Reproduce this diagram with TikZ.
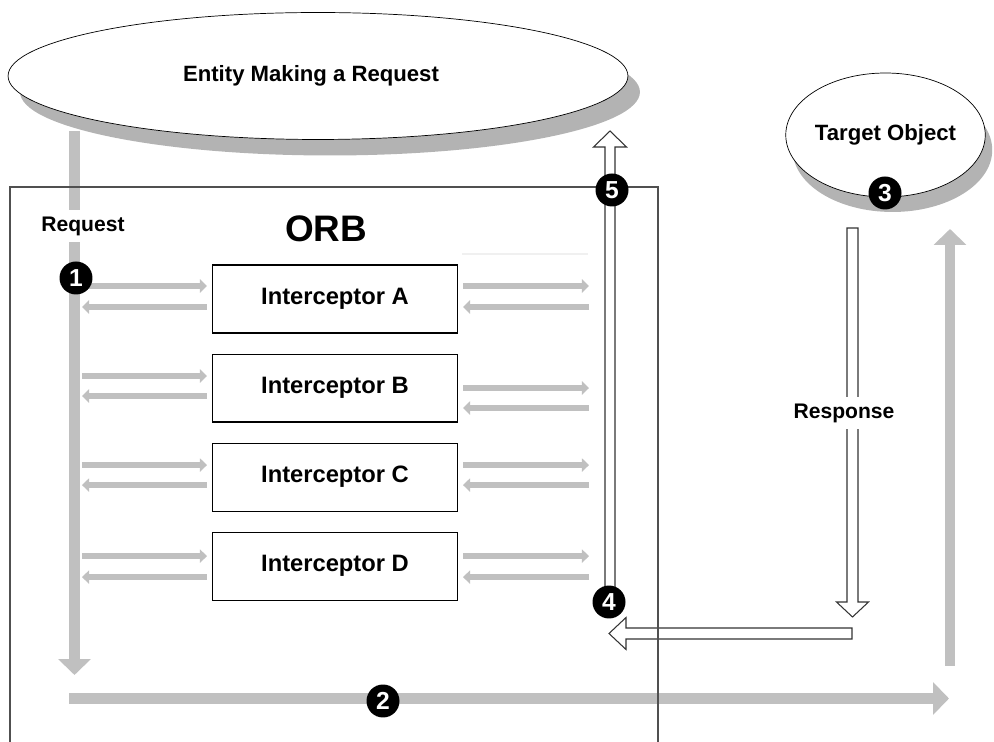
\documentclass[tikz,border=0pt]{standalone}
\usepackage{fontspec}
\setmainfont{Liberation Sans}
\usepackage{tikz}
\usetikzlibrary{positioning,calc,shapes.geometric,shadows,arrows.meta}
\definecolor{bargray}{HTML}{C0C0C0}
\definecolor{shadowgray}{HTML}{B3B3B3}
\definecolor{boxgray}{HTML}{505050}

\begin{document}
\begin{tikzpicture}[x=0.02cm, y=-0.02cm]
        \tikzstyle{entity} = [draw, ellipse, fill=white, inner sep=0pt, font=\bfseries\fontsize{12.6}{15}\selectfont]
        \tikzstyle{icpt} = [draw, rectangle, fill=white, line width=0.6pt, minimum width=4.9cm, minimum height=1.36cm, font=\bfseries\fontsize{13.5}{16}\selectfont]
        \tikzstyle{numdot} = [circle, fill=black, text=white, minimum size=0.66cm, inner sep=0pt, font=\bfseries\fontsize{14}{16}\selectfont]
        \tikzstyle{flowlabel} = [fill=white, inner xsep=2pt, inner ysep=3.5pt, font=\bfseries\fontsize{12}{14}\selectfont]
        \tikzstyle{bigflow} = [draw=bargray, line width=6.2pt, -{Triangle[length=9pt, width=18pt]}]
        \tikzstyle{smallflow} = [draw=bargray, line width=3pt, -{Triangle[length=4pt, width=7.5pt]}]
        \tikzstyle{hollow} = [draw=black!80, fill=white, line width=0.6pt, line join=miter]
        \useasboundingbox (0,0) rectangle (994,742);

        \node (entity) [entity, minimum width=12.4cm, minimum height=2.54cm, drop shadow={shadow xshift=0.24cm, shadow yshift=-0.32cm, fill=shadowgray, opacity=1}] at (318,76) {Entity Making a Request\hspace*{0.28cm}};
        \node (target) [entity, minimum width=3.9cm, minimum height=2.48cm, drop shadow={shadow xshift=0.14cm, shadow yshift=-0.3cm, fill=shadowgray, opacity=1}] at (885.5,135) {Target Object};

        \coordinate (reqtop) at (74.5,131);
        \coordinate (reqend) at (74.5,675);
        \coordinate (h0) at (69,698.5);
        \coordinate (h1) at (949,698.5);
        \coordinate (up0) at (950,666);
        \coordinate (up1) at (950,229);
        \draw[bigflow] (reqtop) -- (reqend);
        \draw[bigflow] (h0) -- (h1);
        \draw[bigflow] (up0) -- (up1);
        \node (req) [flowlabel] at (83,226) {Request};

        \draw[gray!12, line width=0.6pt] (462,254) -- (588,254);
        \node (ia) [icpt] at (335,299) {Interceptor A};
        \node (ib) [icpt, below=0.4cm of ia] {Interceptor B};
        \node (ic) [icpt, below=0.4cm of ib] {Interceptor C};
        \node (id) [icpt, below=0.4cm of ic] {Interceptor D};
        \foreach \n/\a/\b/\c/\d in {ia/-13/8/-13/8, ib/-12/8/0/20, ic/-12/8/-12/8, id/-10/11/-10/11} {
            \draw[smallflow] ($(\n.west)+(-130,\a)$) -- ($(\n.west)+(-5,\a)$);
            \draw[smallflow] ($(\n.west)+(-5,\b)$) -- ($(\n.west)+(-130,\b)$);
            \draw[smallflow] ($(\n.east)+(5,\c)$) -- ($(\n.east)+(131,\c)$);
            \draw[smallflow] ($(\n.east)+(131,\d)$) -- ($(\n.east)+(5,\d)$);
        }

        \coordinate (rettail) at (610,590);
        \coordinate (rettip) at (610,131);
        \draw[hollow] ($(rettail)+(-5,0)$) -- ($(rettip)+(-5,16)$) -- ($(rettip)+(-16.5,16)$) -- (rettip) -- ($(rettip)+(16.5,16)$) -- ($(rettip)+(5,16)$) -- ($(rettail)+(5,0)$);
        \coordinate (resptop) at (852.5,228);
        \coordinate (resptip) at (852.5,617);
        \draw[hollow] ($(resptop)+(-5.5,0)$) -- ($(resptip)+(-5.5,-15)$) -- ($(resptip)+(-16,-15)$) -- (resptip) -- ($(resptip)+(16,-15)$) -- ($(resptip)+(5.5,-15)$) -- ($(resptop)+(5.5,0)$) -- cycle;
        \node (resp) [flowlabel] at (844,413) {Response};
        \coordinate (backstart) at (852,633.5);
        \coordinate (backtip) at (609,633.5);
        \draw[hollow] ($(backstart)+(0,-5.5)$) -- ($(backtip)+(17,-5.5)$) -- ($(backtip)+(17,-16)$) -- (backtip) -- ($(backtip)+(17,16)$) -- ($(backtip)+(17,5.5)$) -- ($(backstart)+(0,5.5)$) -- cycle;

        \draw[boxgray, line width=0.7pt] (10,742) |- (658,187) -- (658,742);
        \node (orb) [font=\bfseries\fontsize{21}{25}\selectfont] at (326,229) {ORB};

        \node (n1) [numdot] at (76,278) {1};
        \node (n2) [numdot] at (383,701) {2};
        \node (n3) [numdot] at (885,193) {3};
        \node (n4) [numdot] at (609,602) {4};
        \node (n5) [numdot] at (612,190) {5};
    \end{tikzpicture}
\end{document}
